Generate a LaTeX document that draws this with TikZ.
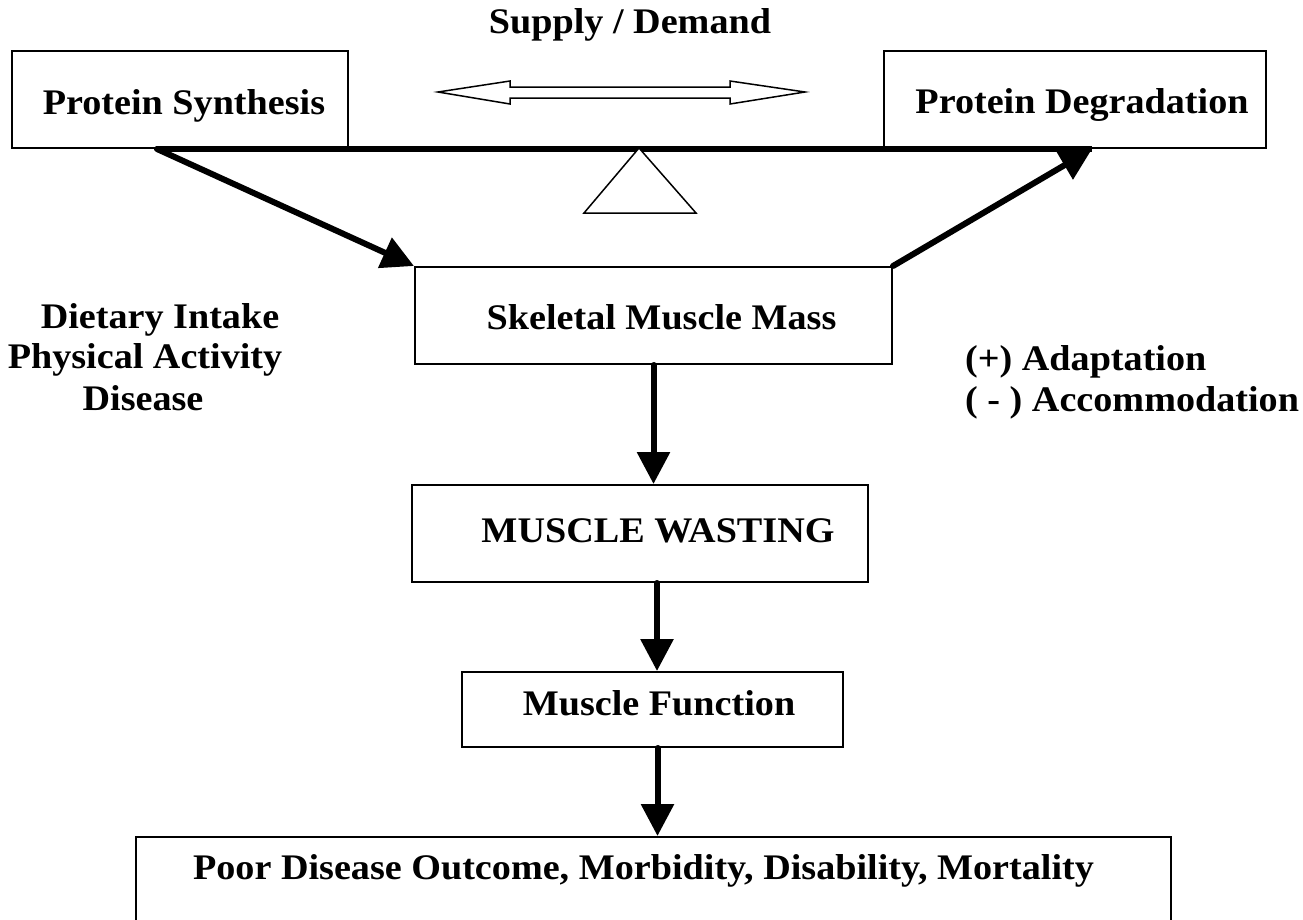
\documentclass[tikz,border=0pt]{standalone}
\usepackage{fontspec}
\setmainfont{Liberation Serif}[FakeStretch=1.06]
\usetikzlibrary{arrows.meta,calc}
\begin{document}
\begin{tikzpicture}[x=1pt,y=-1pt, font=\fontsize{36}{42}\selectfont\bfseries,
  box/.style={draw, line width=2pt, inner xsep=0pt, inner ysep=0pt, anchor=north},
  flow/.style={line width=6pt, line cap=round, -{Triangle[length=32pt,width=32pt]}},
  txt/.style={anchor=base, inner sep=0pt},
  thin outline/.style={line width=1.5pt}]
\useasboundingbox (0,0) rectangle (1303,919);

% boxes
\node[box, minimum width=336pt, text height=63pt, text depth=34pt] (ps) at (180,50) {\hspace*{8pt}Protein Synthesis};
\node[box, minimum width=382pt, text height=62pt, text depth=35pt] (pd) at (1075,50) {\hspace*{14pt}Protein Degradation};
\node[box, minimum width=477pt, text height=62pt, text depth=35pt] (sk) at (653.5,266) {\hspace*{16pt}Skeletal Muscle Mass};
\node[box, minimum width=456pt, text height=57pt, text depth=40pt] (mw) at (640,484) {\hspace*{36pt}MUSCLE WASTING};
\node[box, minimum width=381pt, text height=43pt, text depth=32pt] (mf) at (652.5,671) {\hspace*{13pt}Muscle Function};
\node[box, minimum width=1035pt, text height=42pt, text depth=90pt] (out) at (653.5,836) {Poor Disease Outcome, Morbidity, Disability, Mortality\hspace*{20pt}};

% balance beam
\coordinate (bl) at ([xshift=-23pt]ps.south);
\coordinate (br) at ([xshift=17pt]pd.south);
\draw[line width=6pt] (bl) -- (br);
\draw[thin outline, fill=white] (639,148) -- (696,213) -- (584,213) -- cycle;

% supply / demand double arrow
\draw[thin outline, fill=white] (438,92) -- (510,81) -- (510,87) -- (730,87) -- (730,81) -- (805,92)
  -- (730,104) -- (730,98) -- (510,98) -- (510,104) -- cycle;

% flow arrows
\draw[flow] (bl) -- (sk.north west);
\draw[flow] (sk.north east) -- (br);
\draw[flow] (sk.south) -- (sk.south |- mw.north);
\draw[flow] ([xshift=17pt]mw.south) -- ([xshift=17pt]mw.south |- mf.north);
\draw[flow] ([xshift=5pt]mf.south) -- ([xshift=5pt]mf.south |- out.north);

% texts
\node[txt] (sd) at (630,33) {Supply / Demand};
\node[txt] (di) at (160,328) {Dietary Intake};
\node[txt] (pa) at (145,368) {Physical Activity};
\node[txt] (dis) at (143,410) {Disease};
\node[txt, anchor=base west] (ad) at (965,370) {(+) Adaptation};
\node[txt, anchor=base west] (ac) at (965,411) {( - ) Accommodation};
\end{tikzpicture}
\end{document}
